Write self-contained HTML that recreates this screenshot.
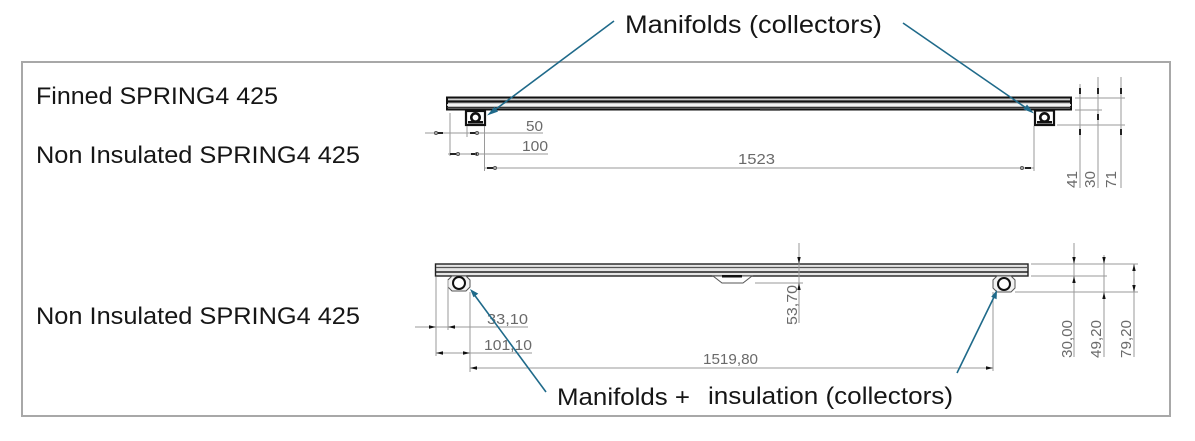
<!DOCTYPE html>
<html>
<head>
<meta charset="utf-8">
<style>
html,body{margin:0;padding:0;background:#fff;}
svg{display:block;}
.lbl{font-family:"Liberation Sans",Arial,sans-serif;fill:#161616;}
.dim{font-family:"Liberation Sans",Arial,sans-serif;fill:#6a6a6a;font-size:15px;}
</style>
</head>
<body>
<svg width="1195" height="441" viewBox="0 0 1195 441" xmlns="http://www.w3.org/2000/svg">
  <!-- frame -->
  <rect x="22" y="62" width="1148" height="354" fill="none" stroke="#a8a8a8" stroke-width="2"/>

  <!-- Labels -->
  <text class="lbl" x="625" y="33" font-size="25" textLength="257" lengthAdjust="spacingAndGlyphs">Manifolds  (collectors)</text>
  <text class="lbl" x="36" y="104" font-size="24" textLength="242" lengthAdjust="spacingAndGlyphs">Finned SPRING4 425</text>
  <text class="lbl" x="36" y="163" font-size="24" textLength="324" lengthAdjust="spacingAndGlyphs">Non Insulated SPRING4 425</text>
  <text class="lbl" x="36" y="324" font-size="24" textLength="324" lengthAdjust="spacingAndGlyphs">Non Insulated SPRING4 425</text>
  <text class="lbl" x="557" y="405" font-size="24" textLength="133" lengthAdjust="spacingAndGlyphs">Manifolds +</text>
  <text class="lbl" x="708" y="404" font-size="24" textLength="245" lengthAdjust="spacingAndGlyphs">insulation (collectors)</text>

  <!-- ===== TOP PROFILE ===== -->
  <rect x="447" y="97.5" width="624" height="12" fill="#cfcfcf" stroke="#111" stroke-width="2"/>
  <line x1="447" y1="101.5" x2="1071" y2="101.5" stroke="#111" stroke-width="2.2"/>
  <line x1="447" y1="105" x2="1071" y2="105" stroke="#fff" stroke-width="1.6"/>
  <line x1="447" y1="107.5" x2="1071" y2="107.5" stroke="#333" stroke-width="1.2"/>
  <line x1="760" y1="110" x2="780" y2="110" stroke="#444" stroke-width="1.5"/>
  <!-- manifolds -->
  <rect x="466" y="111" width="19" height="14" fill="#fff" stroke="#111" stroke-width="2.2"/>
  <circle cx="475.5" cy="117.5" r="4.2" fill="#fff" stroke="#111" stroke-width="2.6"/>
  <rect x="468" y="121" width="15" height="2.5" fill="#111"/>
  <rect x="1035" y="110.5" width="19" height="14.5" fill="#fff" stroke="#111" stroke-width="2.2"/>
  <circle cx="1044.5" cy="117.5" r="4.2" fill="#fff" stroke="#111" stroke-width="2.6"/>
  <rect x="1037" y="121" width="15" height="2.5" fill="#111"/>

  <!-- top-left dims -->
  <g stroke="#9a9a9a" stroke-width="1" fill="none">
    <line x1="450" y1="113" x2="450" y2="156"/>
    <line x1="467" y1="126" x2="467" y2="137"/>
    <line x1="484.5" y1="126" x2="484.5" y2="171"/>
    <line x1="425" y1="133" x2="543" y2="133"/>
    <line x1="448" y1="154" x2="548" y2="154"/>
    <line x1="484" y1="168" x2="1034" y2="168"/>
    <line x1="1034" y1="126" x2="1034" y2="171"/>
  </g>
  <g fill="#222">
    <rect x="437" y="132" width="6" height="2"/><circle cx="436" cy="133" r="1.5" fill="none" stroke="#555"/>
    <rect x="470" y="132" width="6" height="2"/><circle cx="477" cy="133" r="1.5" fill="none" stroke="#555"/>
    <rect x="450" y="153" width="6" height="2"/><circle cx="458" cy="154" r="1.5" fill="none" stroke="#555"/>
    <rect x="471" y="153" width="6" height="2"/><circle cx="477" cy="154" r="1.5" fill="none" stroke="#555"/>
    <rect x="487" y="167" width="6" height="2"/><circle cx="495" cy="168" r="1.5" fill="none" stroke="#555"/>
    <rect x="1025" y="167" width="6" height="2"/><circle cx="1022" cy="168" r="1.5" fill="none" stroke="#555"/>
  </g>
  <text class="dim" x="526" y="131" textLength="17" lengthAdjust="spacingAndGlyphs">50</text>
  <text class="dim" x="522" y="151" textLength="26" lengthAdjust="spacingAndGlyphs">100</text>
  <text class="dim" x="738" y="164" textLength="37" lengthAdjust="spacingAndGlyphs">1523</text>

  <!-- top-right dims -->
  <g stroke="#9a9a9a" stroke-width="1" fill="none">
    <line x1="1075" y1="98" x2="1125" y2="98"/>
    <line x1="1075" y1="110" x2="1102" y2="110"/>
    <line x1="1057" y1="125" x2="1125" y2="125"/>
    <line x1="1080" y1="84" x2="1080" y2="188"/>
    <line x1="1098" y1="77" x2="1098" y2="188"/>
    <line x1="1121" y1="77" x2="1121" y2="188"/>
  </g>
  <g fill="#222">
    <rect x="1079" y="88" width="2" height="6"/>
    <rect x="1079" y="129" width="2" height="6"/>
    <rect x="1097" y="88" width="2" height="6"/>
    <rect x="1097" y="114" width="2" height="6"/>
    <rect x="1120" y="88" width="2" height="6"/>
    <rect x="1120" y="129" width="2" height="6"/>
  </g>
  <text class="dim" transform="translate(1077,188) rotate(-90)" textLength="17" lengthAdjust="spacingAndGlyphs">41</text>
  <text class="dim" transform="translate(1095,188) rotate(-90)" textLength="17" lengthAdjust="spacingAndGlyphs">30</text>
  <text class="dim" transform="translate(1116,188) rotate(-90)" textLength="17" lengthAdjust="spacingAndGlyphs">71</text>

  <!-- ===== BOTTOM PROFILE ===== -->
  <rect x="435.5" y="264" width="592.5" height="12" fill="#e6e6e6" stroke="#222" stroke-width="1.4"/>
  <line x1="436" y1="267.5" x2="1028" y2="267.5" stroke="#555" stroke-width="1.2"/>
  <line x1="436" y1="272" x2="1028" y2="272" stroke="#222" stroke-width="1.5"/>
  <!-- hump -->
  <polygon points="713,276 752,276 743,283 722,283" fill="#fff" stroke="#555" stroke-width="1"/>
  <rect x="722" y="275" width="20" height="2.5" fill="#111"/>
  <!-- manifolds -->
  <polygon points="452,276 466,276 470,280 470,287 466,291 452,291 448,287 448,280" fill="#f2f2f2" stroke="#555" stroke-width="1"/>
  <circle cx="459" cy="283" r="6" fill="#fff" stroke="#111" stroke-width="2"/>
  <polygon points="997,276 1011,276 1015,280 1015,288 1011,292 997,292 993,288 993,280" fill="#f2f2f2" stroke="#555" stroke-width="1"/>
  <circle cx="1004" cy="284" r="6" fill="#fff" stroke="#111" stroke-width="2"/>

  <!-- bottom-left dims -->
  <g stroke="#9a9a9a" stroke-width="1" fill="none">
    <line x1="436" y1="277" x2="436" y2="356"/>
    <line x1="448" y1="280" x2="448" y2="330"/>
    <line x1="470" y1="292" x2="470" y2="372"/>
    <line x1="415" y1="327" x2="528" y2="327"/>
    <line x1="436" y1="353" x2="532" y2="353"/>
    <line x1="470" y1="368" x2="993" y2="368"/>
    <line x1="993" y1="292" x2="993" y2="371"/>
  </g>
  <g fill="#111">
    <polygon points="436,327 429,325.3 429,328.7"/>
    <polygon points="448,327 455,325.3 455,328.7"/>
    <polygon points="436,353 443,351.3 443,354.7"/>
    <polygon points="470,353 463,351.3 463,354.7"/>
    <polygon points="470,368 477,366.3 477,369.7"/>
    <polygon points="993,368 986,366.3 986,369.7"/>
  </g>
  <text class="dim" x="487" y="324" textLength="41" lengthAdjust="spacingAndGlyphs">33,10</text>
  <text class="dim" x="484" y="350" textLength="48" lengthAdjust="spacingAndGlyphs">101,10</text>
  <text class="dim" x="703" y="364" textLength="55" lengthAdjust="spacingAndGlyphs">1519,80</text>

  <!-- 53,70 -->
  <g stroke="#9a9a9a" stroke-width="1" fill="none">
    <line x1="799" y1="243" x2="799" y2="323"/>
    <line x1="755" y1="283" x2="803" y2="283"/>
  </g>
  <g fill="#111">
    <polygon points="799,264 797.3,257 800.7,257"/>
    <polygon points="799,283 797.3,290 800.7,290"/>
  </g>
  <text class="dim" transform="translate(797,325) rotate(-90)" textLength="40" lengthAdjust="spacingAndGlyphs">53,70</text>

  <!-- bottom-right dims -->
  <g stroke="#9a9a9a" stroke-width="1" fill="none">
    <line x1="1031" y1="264" x2="1138" y2="264"/>
    <line x1="1031" y1="276" x2="1107" y2="276"/>
    <line x1="1015" y1="292" x2="1138" y2="292"/>
    <line x1="1074" y1="243" x2="1074" y2="357"/>
    <line x1="1104" y1="255" x2="1104" y2="357"/>
    <line x1="1134" y1="264" x2="1134" y2="357"/>
  </g>
  <g fill="#111">
    <polygon points="1074,264 1072.3,257 1075.7,257"/>
    <polygon points="1074,276 1072.3,283 1075.7,283"/>
    <polygon points="1104,264 1102.3,257 1105.7,257"/>
    <polygon points="1104,292 1102.3,299 1105.7,299"/>
    <polygon points="1134,264 1132.3,271 1135.7,271"/>
    <polygon points="1134,292 1132.3,285 1135.7,285"/>
  </g>
  <text class="dim" transform="translate(1072,358) rotate(-90)" textLength="38" lengthAdjust="spacingAndGlyphs">30,00</text>
  <text class="dim" transform="translate(1101,358) rotate(-90)" textLength="38" lengthAdjust="spacingAndGlyphs">49,20</text>
  <text class="dim" transform="translate(1131,358) rotate(-90)" textLength="38" lengthAdjust="spacingAndGlyphs">79,20</text>

  <!-- ===== BLUE LEADERS ===== -->
  <g stroke="#1f6a8a" stroke-width="1.6" fill="none">
    <line x1="614" y1="21" x2="492" y2="112"/>
    <line x1="903" y1="23" x2="1029" y2="110"/>
    <line x1="546" y1="392" x2="473" y2="293"/>
    <line x1="957" y1="373" x2="995" y2="295"/>
  </g>
  <g fill="#1f6a8a">
    <polygon points="487,115.5 494.5,106.8 498,111.6"/>
    <polygon points="1034,113.5 1023.6,109.4 1027,104.5"/>
    <polygon points="470,289 478.3,293.6 473.5,297.2"/>
    <polygon points="997,290 996.6,299.3 991.2,296.7"/>
  </g>
</svg>
</body>
</html>
